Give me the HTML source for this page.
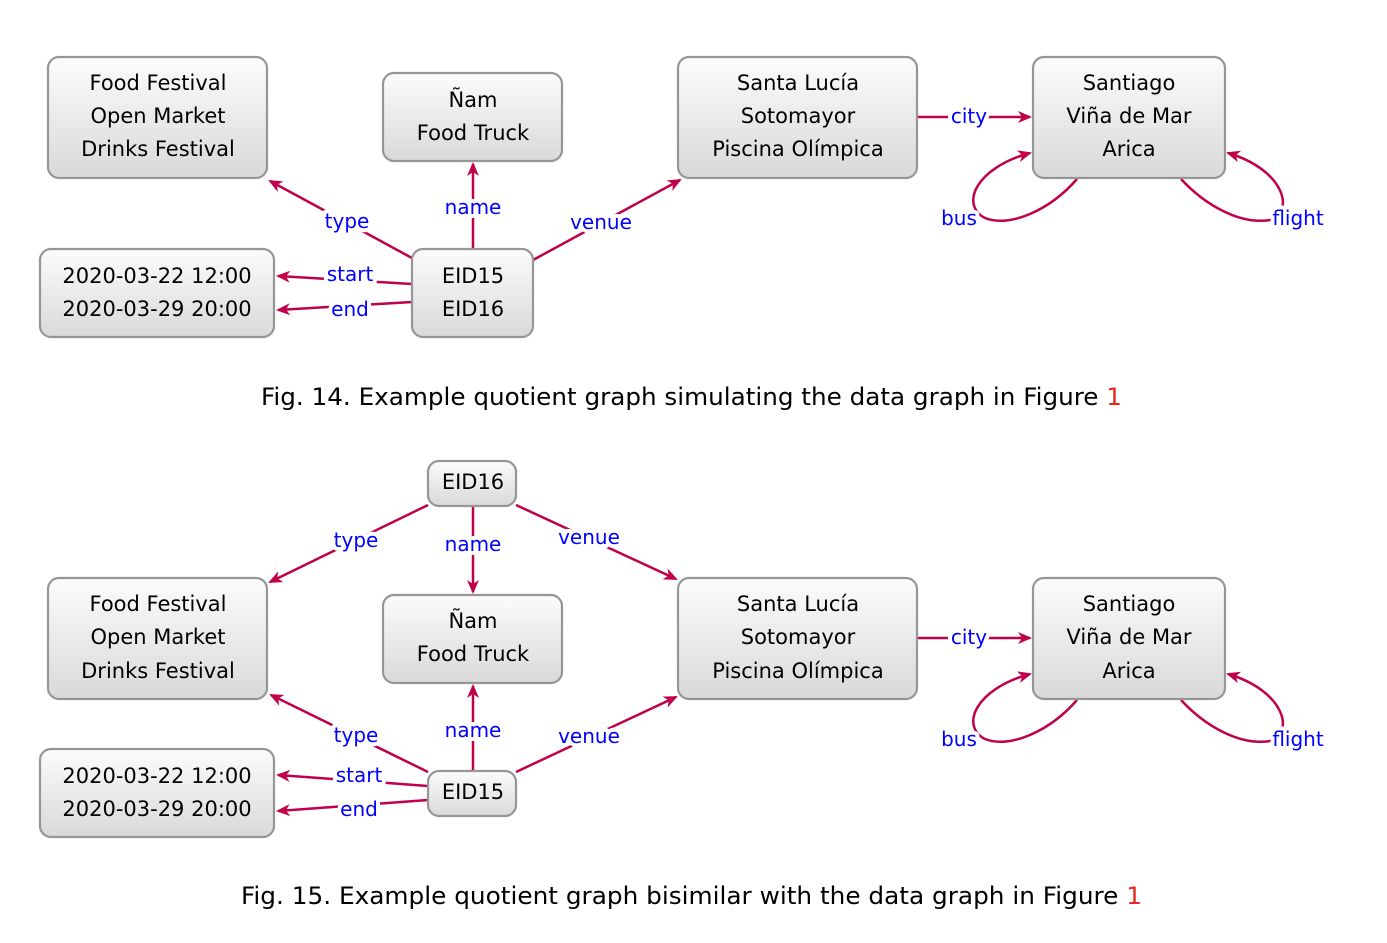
<!DOCTYPE html>
<html><head><meta charset="utf-8"><style>
html,body{margin:0;padding:0;background:#fff;}
svg{display:block;}
.n{font-family:"DejaVu Sans","Liberation Sans",sans-serif;font-size:21px;fill:#000;text-anchor:middle;}
.l{font-family:"DejaVu Sans","Liberation Sans",sans-serif;font-size:20px;fill:#0000ff;text-anchor:middle;stroke:#fff;stroke-width:8px;paint-order:stroke;stroke-linejoin:round;}
.e{stroke:#c0004a;stroke-width:2.5;fill:none;}
.b{fill:url(#g);stroke:#969696;stroke-width:2.2;}
.c{font-family:"DejaVu Sans","Liberation Sans",sans-serif;font-size:24px;fill:#000;}
</style></head><body>
<svg width="1387" height="943" viewBox="0 0 1387 943" xmlns="http://www.w3.org/2000/svg">
<defs>
<linearGradient id="g" x1="0" y1="0" x2="0" y2="1"><stop offset="0" stop-color="#fcfcfc"/><stop offset="1" stop-color="#d9d9d9"/></linearGradient>
<marker id="a" viewBox="0 0 14 12" refX="12" refY="6" markerWidth="14" markerHeight="12" orient="auto" markerUnits="userSpaceOnUse">
<path d="M0,0 L14,6 L0,12 L4,6 Z" fill="#c0004a"/>
</marker>
</defs>

<!-- Fig 14 -->
<g>
<path class="e" d="M412,258 L270,181" marker-end="url(#a)"/>
<path class="e" d="M473,249 L473,164" marker-end="url(#a)"/>
<path class="e" d="M533,260 L680,180" marker-end="url(#a)"/>
<path class="e" d="M412,284 L278,276" marker-end="url(#a)"/>
<path class="e" d="M412,302 L278,310" marker-end="url(#a)"/>
<path class="e" d="M917,117 L1030,117" marker-end="url(#a)"/>
<path class="e" d="M1077,179 C1050,210 1010,228 985,218 C960,205 975,168 1030,153" marker-end="url(#a)"/>
<path class="e" d="M1181,179 C1205,205 1240,225 1270,220 C1295,212 1285,170 1228,153" marker-end="url(#a)"/>
<rect class="b" x="48" y="57" width="219" height="121" rx="11"/>
<rect class="b" x="383" y="73" width="179" height="88" rx="11"/>
<rect class="b" x="678" y="57" width="239" height="121" rx="11"/>
<rect class="b" x="1033" y="57" width="192" height="121" rx="11"/>
<rect class="b" x="40" y="249" width="234" height="88" rx="11"/>
<rect class="b" x="412" y="249" width="121" height="88" rx="11"/>
<text class="n" x="158" y="90">Food Festival</text><text class="n" x="158" y="123">Open Market</text><text class="n" x="158" y="156">Drinks Festival</text>
<text class="n" x="473" y="107">Ñam</text><text class="n" x="473" y="140">Food Truck</text>
<text class="n" x="798" y="90">Santa Lucía</text><text class="n" x="798" y="123">Sotomayor</text><text class="n" x="798" y="156">Piscina Olímpica</text>
<text class="n" x="1129" y="90">Santiago</text><text class="n" x="1129" y="123">Viña de Mar</text><text class="n" x="1129" y="156">Arica</text>
<text class="n" x="157" y="283">2020-03-22 12:00</text><text class="n" x="157" y="316">2020-03-29 20:00</text>
<text class="n" x="473" y="283">EID15</text><text class="n" x="473" y="316">EID16</text>
<text class="l" x="347" y="228">type</text>
<text class="l" x="473" y="214">name</text>
<text class="l" x="601" y="229">venue</text>
<text class="l" x="350" y="281">start</text>
<text class="l" x="350" y="316">end</text>
<text class="l" x="969" y="123">city</text>
<text class="l" x="959" y="225">bus</text>
<text class="l" x="1298" y="225">flight</text>
<text class="c" x="261" y="405" textLength="861" lengthAdjust="spacingAndGlyphs">Fig. 14.  Example quotient graph simulating the data graph in Figure <tspan fill="#e8261e">1</tspan></text>
</g>

<!-- Fig 15 -->
<g>
<path class="e" d="M428,505 L270,582" marker-end="url(#a)"/>
<path class="e" d="M473,506 L473,592" marker-end="url(#a)"/>
<path class="e" d="M516,505 L676,579" marker-end="url(#a)"/>
<path class="e" d="M428,772 L271,695" marker-end="url(#a)"/>
<path class="e" d="M473,771 L473,686" marker-end="url(#a)"/>
<path class="e" d="M516,772 L676,697" marker-end="url(#a)"/>
<path class="e" d="M428,786 L278,775" marker-end="url(#a)"/>
<path class="e" d="M428,800 L278,811" marker-end="url(#a)"/>
<path class="e" d="M917,638 L1030,638" marker-end="url(#a)"/>
<path class="e" d="M1077,700 C1050,731 1010,749 985,739 C960,726 975,689 1030,674" marker-end="url(#a)"/>
<path class="e" d="M1181,700 C1205,726 1240,746 1270,741 C1295,733 1285,691 1228,674" marker-end="url(#a)"/>
<rect class="b" x="48" y="578" width="219" height="121" rx="11"/>
<rect class="b" x="383" y="595" width="179" height="88" rx="11"/>
<rect class="b" x="678" y="578" width="239" height="121" rx="11"/>
<rect class="b" x="1033" y="578" width="192" height="121" rx="11"/>
<rect class="b" x="40" y="749" width="234" height="88" rx="11"/>
<rect class="b" x="428" y="461" width="88" height="45" rx="11"/>
<rect class="b" x="428" y="771" width="88" height="45" rx="11"/>
<text class="n" x="158" y="611">Food Festival</text><text class="n" x="158" y="644">Open Market</text><text class="n" x="158" y="678">Drinks Festival</text>
<text class="n" x="473" y="628">Ñam</text><text class="n" x="473" y="661">Food Truck</text>
<text class="n" x="798" y="611">Santa Lucía</text><text class="n" x="798" y="644">Sotomayor</text><text class="n" x="798" y="678">Piscina Olímpica</text>
<text class="n" x="1129" y="611">Santiago</text><text class="n" x="1129" y="644">Viña de Mar</text><text class="n" x="1129" y="678">Arica</text>
<text class="n" x="157" y="783">2020-03-22 12:00</text><text class="n" x="157" y="816">2020-03-29 20:00</text>
<text class="n" x="473" y="489">EID16</text>
<text class="n" x="473" y="799">EID15</text>
<text class="l" x="356" y="547">type</text>
<text class="l" x="473" y="551">name</text>
<text class="l" x="589" y="544">venue</text>
<text class="l" x="356" y="742">type</text>
<text class="l" x="473" y="737">name</text>
<text class="l" x="589" y="743">venue</text>
<text class="l" x="359" y="782">start</text>
<text class="l" x="359" y="816">end</text>
<text class="l" x="969" y="644">city</text>
<text class="l" x="959" y="746">bus</text>
<text class="l" x="1298" y="746">flight</text>
<text class="c" x="241" y="904" textLength="901" lengthAdjust="spacingAndGlyphs">Fig. 15.  Example quotient graph bisimilar with the data graph in Figure <tspan fill="#e8261e">1</tspan></text>
</g>
</svg>
</body></html>
